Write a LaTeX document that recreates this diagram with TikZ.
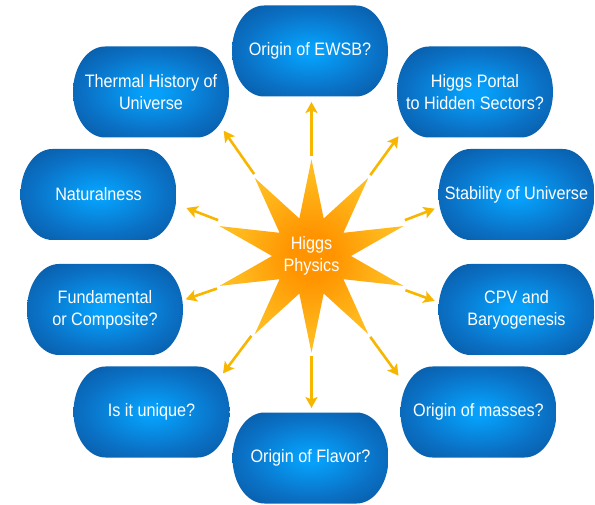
\documentclass[tikz,border=0pt]{standalone}
\usepackage{fontspec}
\setmainfont{Liberation Sans}[FakeStretch=0.9]
\usetikzlibrary{arrows.meta,shapes.geometric,calc}

\definecolor{boxin}{RGB}{6,160,250}
\definecolor{boxmid}{RGB}{10,112,196}
\definecolor{boxout}{RGB}{8,70,136}
\definecolor{starin}{RGB}{255,148,0}
\definecolor{starmid}{RGB}{255,184,28}
\definecolor{starout}{RGB}{255,214,72}
\definecolor{arrowcol}{RGB}{247,182,0}

% soft blue glow for the question boxes, orange-to-yellow for the star
\pgfdeclareradialshading{boxshade}{\pgfpoint{0bp}{0bp}}{%
  color(0bp)=(boxin); color(3bp)=(boxin); color(22bp)=(boxmid);
  color(44bp)=(boxout); color(100bp)=(boxout)}
\pgfdeclareradialshading{starshade}{\pgfpoint{0bp}{0bp}}{%
  color(0bp)=(starin); color(6bp)=(starin); color(20bp)=(starmid);
  color(48bp)=(starout); color(100bp)=(starout)}

\newcommand{\labelfont}{\fontsize{18}{21.7}\selectfont}

\begin{document}
\begin{tikzpicture}[x=1pt,y=1pt,
  topic/.style={rectangle, minimum width=156pt, minimum height=91pt,
    inner sep=0pt, outer sep=0pt, align=center, text=white, font=\labelfont,
    path picture={
      \shade[shading=boxshade]
        ([xshift=32pt]path picture bounding box.north west)
        -- ([xshift=-32pt]path picture bounding box.north east)
        arc[start angle=90, end angle=-90, x radius=32pt, y radius=45.5pt]
        -- ([xshift=32pt]path picture bounding box.south west)
        arc[start angle=270, end angle=90, x radius=32pt, y radius=45.5pt]
        -- cycle;
    }},
  burst/.style={star, star points=10, star point ratio=2.45,
    minimum size=190pt, inner sep=0pt, shade, shading=starshade,
    text=white, align=center, font=\labelfont},
  ray/.style={draw=arrowcol, line width=2.6pt,
    -{Stealth[length=11pt,width=12pt,inset=2.5pt]}, shorten <=100pt}
]
\useasboundingbox (0,0) rectangle (595,-505);

% central burst
\node[burst] (higgs) at (311.5,-256) {Higgs\\Physics};

% open questions around it
\node[topic] (ewsb)        at (310,-51)    {Origin of EWSB?};
\node[topic] (portal)      at (475,-92)    {Higgs Portal\\to Hidden Sectors?};
\node[topic] (thermal)     at (151,-92)    {Thermal History of\\Universe};
\node[topic] (natural)     at (98.5,-194.5) {Naturalness};
\node[topic] (stability)   at (516.5,-194.5) {Stability of Universe};
\node[topic] (fundamental) at (105,-309.5) {Fundamental\\or Composite?};
\node[topic] (cpv)         at (516.5,-309.5) {CPV and\\Baryogenesis};
\node[topic] (unique)      at (151.5,-412) {Is it unique?};
\node[topic] (masses)      at (478.5,-412) {Origin of masses?};
\node[topic] (flavor)      at (310.5,-458) {Origin of Flavor?};

% arrow tips, just short of each box
\coordinate (tEwsb)        at ($(higgs.center)+(90:154)$);
\coordinate (tThermal)     at ($(higgs.center)+(125:153)$);
\coordinate (tPortal)      at ($(higgs.center)+(54:148)$);
\coordinate (tNatural)     at ($(higgs.center)+(159:134)$);
\coordinate (tStability)   at ($(higgs.center)+(21:132)$);
\coordinate (tFundamental) at ($(higgs.center)+(199:133)$);
\coordinate (tCpv)         at ($(higgs.center)+(-20:131)$);
\coordinate (tUnique)      at ($(higgs.center)+(233:147)$);
\coordinate (tMasses)      at ($(higgs.center)+(-54:148)$);
\coordinate (tFlavor)      at ($(higgs.center)+(270:152)$);

\foreach \t in {tEwsb,tThermal,tPortal,tNatural,tStability,
                tFundamental,tCpv,tUnique,tMasses,tFlavor}
  \draw[ray] (higgs.center) -- (\t);
\end{tikzpicture}
\end{document}
